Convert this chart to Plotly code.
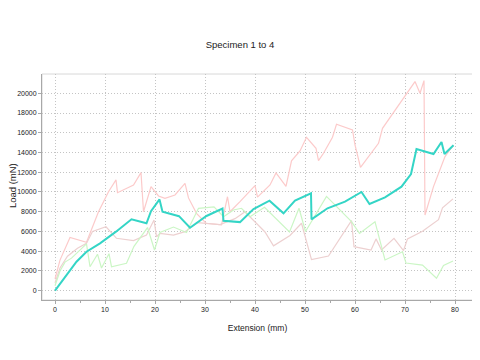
import plotly.graph_objects as go

# Specimen 1 (high pink)
s1_x = [0, 1, 3, 6.3, 8.7, 10.7, 12.2, 12.5, 15.7, 17.2, 17.7, 19.2, 20.7, 22, 24, 26, 26.7, 28.3, 30.2, 33.3,
        34.5, 35, 37, 40, 40.5, 43, 44.2, 46.2, 47.3, 49, 50.3, 52.2, 52.7, 53.7, 55.5, 56.3, 59.5, 60, 61.1,
        62.9, 64.7, 65.5, 69.7, 72, 73, 73.8, 74.0, 75.7, 78, 79.7]
s1_y = [1200, 3100, 5400, 4900, 8000, 10030, 11220, 9930, 10710, 11960, 8000, 10540, 9600, 9360, 9700, 10880,
        9400, 7840, 6830, 6660, 9520, 8000, 9020, 10650, 9480, 10710, 11930, 10560, 13150, 14150, 15540, 14430,
        13170, 13920, 15540, 16860, 16280, 14760, 12500, 13750, 14930, 16450, 19490, 21180, 20000, 21280, 7670,
        10540, 13580, 14760]

# Specimen 2 (turquoise)
s2_x = [0, 2.3, 4.3, 6.3, 9, 12.2, 15.3, 18.3, 19.2, 20.9, 21.5, 24.8, 27, 30.3, 33.5, 33.7, 37, 39.7, 42.9,
        45.7, 48, 51.2, 51.3, 54.5, 58, 61.3, 62.9, 66, 69.3, 71.2, 72.3, 75.7, 77.3, 77.9, 79.7]
s2_y = [0, 1590, 2940, 3950, 4800, 5980, 7230, 6830, 8050, 9250, 8000, 7550, 6380, 7570, 8320, 7090, 6950,
        8270, 9120, 7840, 9120, 9870, 7230, 8350, 9020, 10000, 8780, 9460, 10540, 11820, 14360, 13850, 15070,
        13850, 14740]

# Specimen 3 (green)
s3_x = [0, 1, 2, 3.3, 6.3, 7, 8.5, 9.3, 10.8, 11.3, 14.3, 15.8, 18.5, 19.9, 21, 23.7, 26.3, 28.7, 31.8, 33.7,
        35.7, 37.3, 39, 41.9, 46.9, 48.8, 50.1, 54.3, 59.3, 60.9, 64, 66, 69.5, 70.2, 73.5, 76.3, 77.7, 79.6]
s3_y = [500, 2000, 2900, 3300, 4750, 2430, 3700, 2300, 3750, 2430, 2780, 4500, 6400, 4120, 5900, 6450, 5900,
        8350, 8500, 7500, 8180, 8350, 7500, 8450, 5950, 8350, 6000, 9550, 7000, 5810, 6990, 3110, 3950, 2810,
        2600, 1260, 2550, 3010]

# Specimen 4 (grey pink)
s4_x = [0, 1, 2.5, 4.5, 6.3, 7.5, 10.2, 12.3, 15.7, 18.3, 19.8, 20.3, 21, 23.7, 26, 28.5, 33, 36, 38, 40, 42,
        43.7, 47, 49.3, 51.3, 54.7, 56.3, 59.3, 59.8, 63.2, 64.2, 65.3, 67.8, 69.7, 70.5, 73.5, 76.7, 77.5, 79.6]
s4_y = [800, 2300, 3500, 4300, 4800, 6000, 6480, 5310, 5070, 5640, 7160, 5470, 5800, 5640, 5980, 6900, 6700,
        7300, 8000, 7000, 5950, 4550, 5600, 6830, 3150, 3520, 4800, 7100, 4460, 4120, 5250, 4120, 5310, 4070,
        5250, 6030, 7200, 8400, 9300]

x_ticks = [0, 10, 20, 30, 40, 50, 60, 70, 80]
y_ticks = [0, 2000, 4000, 6000, 8000, 10000, 12000, 14000, 16000, 18000, 20000]

fig = go.Figure()
fig.add_trace(go.Scatter(x=s1_x, y=s1_y, mode="lines", line=dict(color="#fccaca", width=1.2), name="Specimen 1"))
fig.add_trace(go.Scatter(x=s4_x, y=s4_y, mode="lines", line=dict(color="#edd0d0", width=1.2), name="Specimen 4"))
fig.add_trace(go.Scatter(x=s3_x, y=s3_y, mode="lines", line=dict(color="#cbf6c5", width=1.2), name="Specimen 3"))
fig.add_trace(go.Scatter(x=s2_x, y=s2_y, mode="lines", line=dict(color="#34d5c6", width=2), name="Specimen 2"))

axis_common = dict(
    showgrid=True, gridcolor="#c4c4c4", griddash="1px,2px", gridwidth=1,
    showline=True, linecolor="#a8a8a8", linewidth=1, mirror=False,
    ticks="outside", ticklen=3, tickcolor="#a8a8a8",
    zeroline=False, automargin=False,
    tickfont=dict(family="Liberation Sans", size=7, color="#222"),
)

# the page body adds an 8px offset, so margins are shifted to compensate
fig.update_layout(
    width=480, height=360,
    margin=dict(l=34, r=15, t=66, b=68),
    paper_bgcolor="white", plot_bgcolor="white",
    showlegend=False,
    title=dict(text="Specimen 1 to 4", x=232 / 480, xanchor="center", y=1 - 37 / 360, yanchor="middle",
               font=dict(family="Liberation Sans", size=9.5, color="#222")),
    xaxis=dict(range=[-2.6, 83.6], tickvals=x_ticks,
               minor=dict(dtick=5, ticks="outside", ticklen=2, tickcolor="#a8a8a8", showgrid=False),
               title=dict(text="Extension (mm)", font=dict(family="Liberation Sans", size=8.5, color="#222"), standoff=12),
               **axis_common),
    yaxis=dict(range=[-940, 21950], tickvals=y_ticks, tickformat="d", **axis_common),
    annotations=[dict(text="Load (mN)", textangle=-90, xref="paper", yref="paper",
                      x=-30 / 431, y=0.504, xanchor="center", yanchor="middle", showarrow=False,
                      font=dict(family="Liberation Sans", size=9.5, color="#222"))],
    shapes=[dict(type="rect", xref="paper", yref="paper", x0=0, y0=0, x1=1, y1=1,
                 line=dict(color="#d8d8d8", width=1), layer="below")],
)

fig.write_html("out.html")
